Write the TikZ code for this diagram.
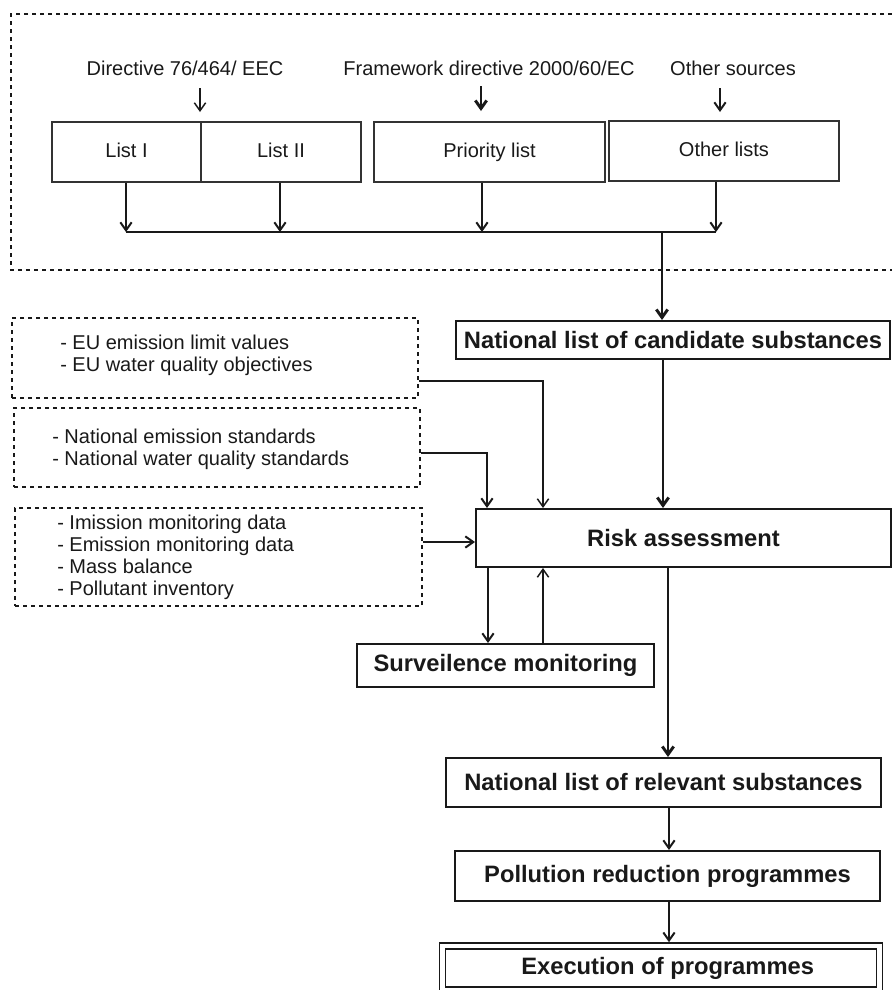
\documentclass[tikz,border=0pt]{standalone}
\usepackage{fontspec}
\setmainfont{Liberation Sans}
\usetikzlibrary{arrows.meta}
\begin{document}
\begin{tikzpicture}[x=0.75pt,y=-0.75pt,
  txt/.style={font=\fontsize{15}{16.5}\selectfont, text=black!90, inner sep=0pt},
  btxt/.style={font=\bfseries\fontsize{17.8}{20}\selectfont, text=black!90},
  bx/.style 2 args={minimum width=#1*0.75pt, minimum height=#2*0.75pt, inner sep=0pt},
  listbox/.style={draw=black!80, line width=0.9pt, text height=10.8pt, text depth=3.2pt},
  boldbox/.style={draw=black!90, line width=1.5pt},
  dbox/.style={draw=black!90, dash pattern=on 3pt off 3pt, line width=1.4pt},
  arr/.style={-{Straight Barb[length=6pt,width=8.5pt]}},
  lthin/.style={line width=1.1pt, draw=black!90},
  lmed/.style={line width=1.5pt, draw=black!90},
  lthick/.style={line width=2.2pt, draw=black!90}
]
\useasboundingbox (0,0) rectangle (892,990);

% outer dashed frame (open to the right)
\draw[dbox] (892,14) -- (11,14) -- (11,270) -- (892,270);

% sources
\node[txt] (dir) at (185,68) {Directive 76/464/ EEC};
\node[txt] (fw) at (489,68) {Framework directive 2000/60/EC};
\node[txt] (os) at (733,68) {Other sources};

% lists
\node[listbox, bx={149}{60}, txt] (listI) at (126.5,152) {List I};
\node[listbox, bx={160}{60}, txt] (listII) at (281,152) {List II};
\node[listbox, bx={231}{60}, txt] (prio) at (489.5,152) {Priority list};
\node[listbox, bx={230}{60}, txt] (other) at (724,151) {Other lists};

\coordinate (d1) at (200,88);  \coordinate (d2) at (200,112);
\coordinate (f1) at (481,86);  \coordinate (f2) at (481,111);
\coordinate (o1) at (720,88);  \coordinate (o2) at (720,112);
\draw[arr, lthin] (d1) -- (d2);
\draw[arr, lthick] (f1) -- (f2);
\draw[arr, lmed] (o1) -- (o2);

\coordinate (c1) at (126,232);
\coordinate (c2) at (280,232);
\coordinate (c3) at (482,232);
\coordinate (c4) at (716,232);
\coordinate (cm) at (662,232);
\draw[arr, lmed] (listI.south -| c1) -- (c1);
\draw[arr, lmed] (listII.south -| c2) -- (c2);
\draw[arr, lmed] (prio.south -| c3) -- (c3);
\draw[arr, lmed] (other.south -| c4) -- (c4);
\draw[lmed] (c1) -- (c4);

% main chain
\node[boldbox, bx={434}{38}, btxt] (cand) at (673,340) {National list of candidate substances};
\node[boldbox, bx={415}{58}, btxt] (risk) at (683.5,538) {Risk assessment};
\node[boldbox, bx={297}{43}, btxt] (surv) at (505.5,665.5) {Surveilence monitoring};
\node[boldbox, bx={435}{49}, btxt] (rel) at (663.5,782.5) {National list of relevant substances};
\node[boldbox, bx={425}{50}, btxt] (poll) at (667.5,876) {Pollution reduction programmes};
\node[draw=black!90, double, double distance=3.4pt, line width=1.1pt, bx={437}{44}, btxt] (exec) at (661,968) {\hspace*{10pt}Execution of programmes};

\draw[arr, lthick] (cm) -- (cand.north -| cm);

% dashed input boxes
\node[dbox, bx={406}{80}] (eu) at (215,358) {};
\node[txt, align=left, anchor=west] (eut) at (60,355) {- EU emission limit values\\- EU water quality objectives};
\node[dbox, bx={406}{79}] (nat) at (217,447.5) {};
\node[txt, align=left, anchor=west] (natt) at (52,449) {- National emission standards\\- National water quality standards};
\node[dbox, bx={407}{98}] (imi) at (218.5,557) {};
\node[txt, align=left, anchor=west] (imit) at (57,557) {- Imission monitoring data\\- Emission monitoring data\\- Mass balance\\- Pollutant inventory};

% connectors into risk assessment
\coordinate (e1) at (543,381);
\draw[arr, lthin] (eu.east |- e1) -- (e1) -- (risk.north -| e1);
\coordinate (n1) at (487,453);
\draw[arr, lmed] (nat.east |- n1) -- (n1) -- (risk.north -| n1);
\coordinate (i1) at (422,542);
\draw[arr, lmed] (imi.east |- i1) -- (risk.west |- i1);
\coordinate (k1) at (663,400);
\draw[arr, lthick] (cand.south -| k1) -- (risk.north -| k1);

% surveillance loop
\coordinate (s1) at (488,600);
\coordinate (s2) at (543,600);
\draw[arr, lmed] (risk.south -| s1) -- (surv.north -| s1);
\draw[arr, lthin] (surv.north -| s2) -- (risk.south -| s2);

% lower chain
\coordinate (k2) at (668,700);
\draw[arr, lthick] (risk.south -| k2) -- (rel.north -| k2);
\coordinate (k3) at (669,830);
\draw[arr, lmed] (rel.south -| k3) -- (poll.north -| k3);
\draw[arr, lmed, shorten >=2.3pt] (poll.south -| k3) -- (exec.north -| k3);
\end{tikzpicture}
\end{document}
